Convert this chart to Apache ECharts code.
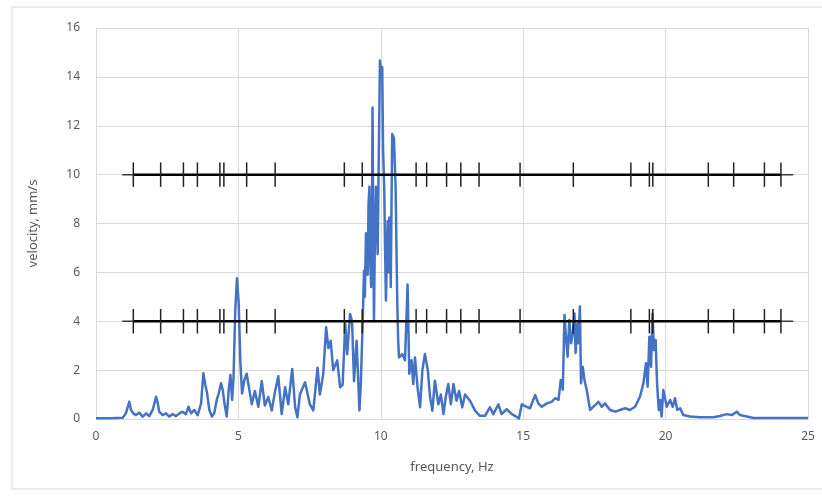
<!DOCTYPE html>
<html>
<head>
<meta charset="utf-8">
<title>velocity spectrum</title>
<script src="https://cdn.jsdelivr.net/npm/echarts@6/dist/echarts.min.js"></script>
<style>
  html, body { margin: 0; padding: 0; background: #fff; }
  #chart { width: 822px; height: 496px; }
</style>
</head>
<body>
<div id="chart"></div>
<script>
// spectrum: frequency (Hz) and velocity (mm/s)
const freq = [
  0, 0.5, 0.94, 1.05, 1.17, 1.23, 1.31, 1.40, 1.52, 1.64, 1.76, 1.87, 1.99, 2.11, 2.17, 2.22,
  2.34, 2.46, 2.57, 2.69, 2.81, 2.93, 3.04, 3.16, 3.25, 3.34, 3.45, 3.57, 3.69, 3.77, 3.84, 3.90,
  3.98, 4.07, 4.15, 4.24, 4.31, 4.39, 4.45, 4.51, 4.59, 4.66, 4.72, 4.78, 4.83, 4.89, 4.95, 5.01,
  5.07, 5.13, 5.21, 5.29, 5.47, 5.58, 5.70, 5.82, 5.93, 6.05, 6.17, 6.29, 6.40, 6.52, 6.64, 6.75,
  6.89, 6.99, 7.07, 7.16, 7.34, 7.51, 7.63, 7.78, 7.86, 7.98, 8.08, 8.16, 8.24, 8.33, 8.47, 8.57,
  8.66, 8.75, 8.82, 8.92, 8.99, 9.06, 9.15, 9.25, 9.30, 9.33, 9.37, 9.41, 9.44, 9.48, 9.51, 9.54,
  9.57, 9.60, 9.63, 9.66, 9.69, 9.71, 9.73, 9.76, 9.79, 9.83, 9.86, 9.89, 9.92, 9.97, 10.01, 10.05,
  10.08, 10.12, 10.15, 10.18, 10.21, 10.24, 10.27, 10.30, 10.33, 10.35, 10.37, 10.40, 10.43, 10.46,
  10.49, 10.52, 10.55, 10.58, 10.61, 10.64,
  10.76, 10.85, 10.94, 11.00, 11.08, 11.14, 11.20, 11.29, 11.38, 11.46, 11.55, 11.65, 11.73, 11.81,
  11.90, 12.02, 12.11, 12.20, 12.28, 12.37, 12.46, 12.55, 12.66, 12.75, 12.86, 12.96, 13.13, 13.31,
  13.48, 13.66, 13.83, 13.95, 14.13, 14.24, 14.42, 14.60, 14.71, 14.85, 14.95, 15.12, 15.24, 15.42,
  15.53, 15.65, 15.83, 16.00, 16.12, 16.24, 16.32, 16.39, 16.45, 16.51, 16.56, 16.62, 16.68, 16.74,
  16.80, 16.84, 16.90, 16.94, 16.99, 17.03, 17.09, 17.15, 17.23, 17.35, 17.46, 17.64, 17.76, 17.87,
  18.05, 18.23, 18.40, 18.58, 18.75, 18.93, 19.10, 19.22, 19.31, 19.37, 19.43, 19.49, 19.54, 19.59,
  19.65, 19.70, 19.76, 19.81, 19.86, 19.92, 20.04, 20.16, 20.25, 20.33, 20.41, 20.51, 20.62, 20.86,
  21.21, 21.68, 21.91, 22.15, 22.32, 22.50, 22.61, 22.85, 23.08, 24.95, 25
]
const velocity = [
  0.03, 0.03, 0.05, 0.23, 0.71, 0.37, 0.23, 0.16, 0.26, 0.10, 0.23, 0.12, 0.37, 0.91, 0.64, 0.30,
  0.16, 0.23, 0.10, 0.20, 0.12, 0.23, 0.30, 0.20, 0.50, 0.23, 0.37, 0.16, 0.64, 1.87, 1.39, 1.05,
  0.37, 0.10, 0.23, 0.78, 1.05, 1.46, 1.19, 0.64, 0.10, 1.19, 1.80, 0.78, 1.73, 4.46, 5.76, 4.73,
  2.28, 1.05, 1.60, 1.85, 0.60, 1.15, 0.50, 1.55, 0.55, 0.90, 0.35, 1.15, 1.75, 0.20, 1.30, 0.60,
  2.05, 0.50, 0.07, 1.00, 1.50, 0.60, 0.35, 2.10, 1.00, 1.85, 3.75, 2.90, 3.20, 2.00, 2.40, 1.30,
  1.40, 3.90, 2.65, 4.30, 4.00, 1.55, 3.20, 0.35, 1.50, 2.65, 4.20, 6.07, 5.00, 7.60, 6.20, 5.90,
  8.80, 9.50, 6.50, 5.40, 8.00, 12.75, 8.50, 4.00, 7.20, 9.50, 8.00, 6.75, 9.80, 14.67, 14.20, 14.40,
  11.00, 9.50, 7.00, 4.85, 6.50, 8.10, 6.00, 8.25, 7.00, 5.40, 8.00, 11.66, 11.70, 11.50,
  10.50, 9.50, 7.00, 4.70, 3.20, 2.52,
  2.65, 2.40, 5.50, 1.85, 2.40, 1.43, 2.52, 1.30, 0.48, 2.00, 2.66, 2.00, 0.90, 0.34,
  1.57, 0.60, 1.00, 0.20, 0.90, 1.43, 0.60, 1.43, 0.75, 1.15, 0.48, 1.00, 0.75, 0.34,
  0.13, 0.13, 0.48, 0.20, 0.60, 0.20, 0.40, 0.20, 0.13, 0.02, 0.60, 0.50, 0.44, 0.98,
  0.64, 0.50, 0.64, 0.70, 0.85, 0.78, 1.60, 1.20, 4.26, 3.23, 2.55, 4.05, 3.10, 3.50,
  4.32, 2.70, 3.90, 3.10, 4.60, 1.46, 2.14, 1.60, 1.19, 0.37, 0.50, 0.70, 0.50, 0.64,
  0.37, 0.30, 0.37, 0.44, 0.37, 0.50, 0.91, 1.46, 2.28, 1.32, 3.37, 2.14, 4.32, 2.82,
  3.23, 1.46, 0.37, 0.78, 0.10, 1.19, 0.50, 0.78, 0.50, 0.85, 0.37, 0.44, 0.16, 0.10,
  0.07, 0.07, 0.12, 0.20, 0.16, 0.30, 0.16, 0.10, 0.04, 0.04, 0.04
]

// the two black reference lines with their tick marks
const levels = [10, 4]
const lineSpan = [0.92, 24.48]
const tickSpan = [1.31, 24.05]
const tickFreqs = [1.31, 2.27, 3.07, 3.56, 4.35, 4.49, 5.29, 6.29, 8.72, 9.35, 11.24, 11.61,
  12.31, 12.81, 13.45, 14.89, 16.76, 18.78, 19.43, 19.55, 21.50, 22.39, 23.47, 24.05]
const tickHalf = 0.5

const textColor = '#595959'
const gridColor = '#d9d9d9'
const fontName = '"Noto Sans", "Open Sans", sans-serif'

let spectrum = freq.map((f, i) => [f, velocity[i]])

let series = [{
  type: 'line',
  data: spectrum,
  showSymbol: false,
  symbol: 'none',
  z: 2,
  lineStyle: { color: '#4472c4', width: 2.5, join: 'round' }
}]

levels.forEach(level => {
  series.push({
    type: 'line',
    data: lineSpan.map(f => [f, level]),
    symbol: 'none',
    z: 3,
    lineStyle: { color: '#3a3a3a', width: 1.5 }
  })
  series.push({
    type: 'line',
    data: tickSpan.map(f => [f, level]),
    symbol: 'none',
    z: 4,
    lineStyle: { color: '#000', width: 2.5 }
  })
  series.push({
    type: 'custom',
    z: 5,
    data: tickFreqs.map(f => [f, level]),
    renderItem: function (params, api) {
      let x = api.value(0)
      let y = api.value(1)
      let p1 = api.coord([x, y - tickHalf])
      let p2 = api.coord([x, y + tickHalf])
      return {
        type: 'line',
        shape: { x1: p1[0], y1: p1[1], x2: p2[0], y2: p2[1] },
        style: { stroke: '#222', lineWidth: 1.5 }
      }
    }
  })
})

let chart = echarts.init(document.getElementById('chart'), null, { renderer: 'canvas' })
chart.setOption({
  animation: false,
  backgroundColor: '#fff',
  graphic: [{
    type: 'rect',
    shape: { x: 12, y: 7, width: 830, height: 482 },
    style: { fill: 'none', stroke: '#d9d9d9', lineWidth: 1 },
    silent: true
  }],
  grid: { left: 96, right: 14, top: 28, bottom: 77 },
  xAxis: {
    type: 'value',
    min: 0,
    max: 25,
    interval: 5,
    name: 'frequency, Hz',
    nameLocation: 'middle',
    nameGap: 42,
    nameTextStyle: { color: textColor, fontSize: 13, fontFamily: fontName },
    axisLine: { show: true, lineStyle: { color: gridColor, width: 1 } },
    axisTick: { show: false },
    axisLabel: { color: textColor, fontSize: 12, fontFamily: fontName, margin: 12 },
    splitLine: { show: true, lineStyle: { color: gridColor, width: 1 } }
  },
  yAxis: {
    type: 'value',
    min: 0,
    max: 16,
    interval: 2,
    name: 'velocity, mm/s',
    nameLocation: 'middle',
    nameGap: 56,
    nameTextStyle: { color: textColor, fontSize: 13, fontFamily: fontName },
    axisLine: { show: false },
    axisTick: { show: false },
    axisLabel: { color: textColor, fontSize: 12, fontFamily: fontName, margin: 16 },
    splitLine: { show: true, lineStyle: { color: gridColor, width: 1 } }
  },
  series: series
})
</script>
</body>
</html>
